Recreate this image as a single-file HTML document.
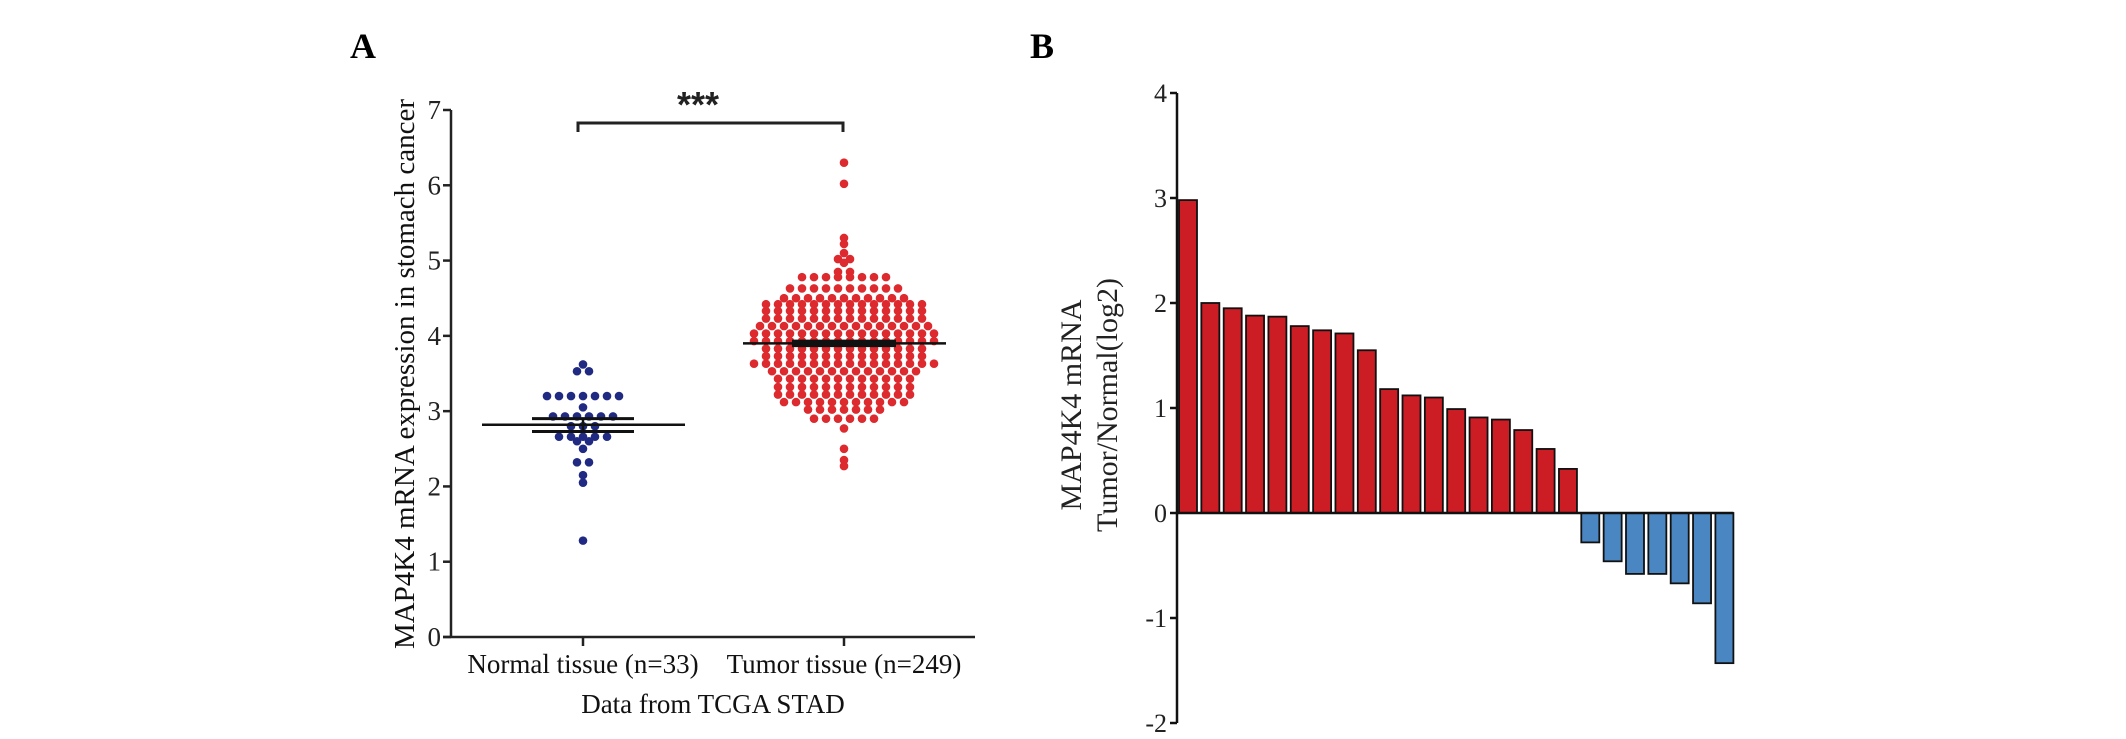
<!DOCTYPE html>
<html><head><meta charset="utf-8">
<style>
html,body{margin:0;padding:0;background:#fff;}
svg{display:block;font-family:"Liberation Serif",serif;}
</style></head>
<body>
<svg id="fig" width="2126" height="739" viewBox="0 0 2126 739" xmlns="http://www.w3.org/2000/svg">
<rect width="2126" height="739" fill="#fff"/>
<text x="350" y="58" font-size="36" font-weight="bold" fill="#000">A</text>
<text x="1030" y="58" font-size="36" font-weight="bold" fill="#000">B</text>
<g id="panelA"></g>
<g id="panelB"></g>
</svg>
<script>
// ---- Panel A data ----
const categoriesA = ["Normal tissue (n=33)", "Tumor tissue (n=249)"];
const normalLevels = [3.62, 3.53, 3.2, 3.05, 2.93, 2.8, 2.66, 2.6, 2.5, 2.32, 2.15, 2.05, 1.28];
const normalCounts = [1, 2, 7, 1, 6, 3, 5, 2, 1, 2, 1, 1, 1];
const tumorLevels = [6.3, 6.02, 5.3, 5.22, 5.1, 5.02, 4.97, 4.85, 4.78, 4.63, 4.5, 4.42, 4.33, 4.23, 4.13, 4.03, 3.93, 3.83, 3.73, 3.63, 3.53, 3.43, 3.32, 3.22, 3.12, 3.02, 2.9, 2.77, 2.5, 2.35, 2.27];
const tumorCounts = [1, 1, 1, 1, 1, 2, 1, 2, 8, 10, 11, 14, 14, 14, 15, 16, 16, 14, 14, 16, 13, 12, 12, 12, 11, 7, 6, 1, 1, 1, 1];
const normalMean = 2.82, normalSemLo = 2.73, normalSemHi = 2.9;
const tumorMean = 3.9, tumorSemLo = 3.85, tumorSemHi = 3.95;
const yTicksA = [0, 1, 2, 3, 4, 5, 6, 7];

// ---- Panel B data ----
const valuesB = [2.98, 2.0, 1.95, 1.88, 1.87, 1.78, 1.74, 1.71, 1.55, 1.18, 1.12, 1.10, 0.99, 0.91, 0.89, 0.79, 0.61, 0.42, -0.28, -0.46, -0.58, -0.58, -0.67, -0.86, -1.43];
const yTicksB = [4, 3, 2, 1, 0, -1, -2];

const NS = "http://www.w3.org/2000/svg";
function mk(parent, tag, attrs, text) {
  const e = document.createElementNS(NS, tag);
  for (const k in attrs) e.setAttribute(k, attrs[k]);
  if (text !== undefined) e.textContent = text;
  parent.appendChild(e);
  return e;
}

// ===== Panel A =====
(function () {
  const g = document.getElementById("panelA");
  const axX = 451, y0 = 637, y7 = 110, xEnd = 975;
  const yA = v => y0 - (v / 7) * (y0 - y7);
  const catX = [583, 844];

  let e = mk(g, "line", {x1: axX, y1: y7, x2: axX, y2: y0, stroke: "#222", "stroke-width": 2.5});
  
  
  e = mk(g, "line", {x1: axX - 8, y1: y0, x2: xEnd, y2: y0, stroke: "#222", "stroke-width": 2.5});
  
  
  yTicksA.forEach(t => {
    const y = yA(t);
    const tk = mk(g, "line", {x1: axX - 8, y1: y, x2: axX, y2: y, stroke: "#222", "stroke-width": 2.5});
    
    
    const lb = mk(g, "text", {x: axX - 10, y: y + 9, "font-size": 27, "text-anchor": "end", fill: "#222"}, String(t));
    
    
  });
  categoriesA.forEach((c, i) => {
    const tk = mk(g, "line", {x1: catX[i], y1: y0, x2: catX[i], y2: y0 + 9, stroke: "#222", "stroke-width": 2.5});
    
    
    const lb = mk(g, "text", {x: catX[i], y: 673, "font-size": 27, "text-anchor": "middle", fill: "#111"}, c);
    
    
  });
  e = mk(g, "text", {x: 713, y: 713, "font-size": 27, "text-anchor": "middle", fill: "#111"}, "Data from TCGA STAD");
  
  
  e = mk(g, "text", {x: 0, y: 0, "font-size": 29, "text-anchor": "middle", fill: "#111", transform: "translate(414,374) rotate(-90)"}, "MAP4K4 mRNA expression in stomach cancer");
  
  

  function swarm(levels, counts, cx, color, name) {
    levels.forEach((lv, r) => {
      const n = counts[r];
      for (let i = 0; i < n; i++) {
        const x = cx + (i - (n - 1) / 2) * 12;
        const d = mk(g, "circle", {cx: x, cy: yA(lv), r: 4.3, fill: color});
        
        
      }
    });
  }
  swarm(tumorLevels, tumorCounts, catX[1], "#dd2a2e", "tumor-dot");
  swarm(normalLevels, normalCounts, catX[0], "#202a82", "normal-dot");

  e = mk(g, "line", {x1: catX[0] - 101, y1: yA(normalMean), x2: catX[0] + 102, y2: yA(normalMean), stroke: "#111", "stroke-width": 2.5});
  
  
  [normalSemLo, normalSemHi].forEach(v => {
    const s = mk(g, "line", {x1: catX[0] - 51, y1: yA(v), x2: catX[0] + 51, y2: yA(v), stroke: "#111", "stroke-width": 3});
    
    
  });
  e = mk(g, "line", {x1: catX[0], y1: yA(normalSemLo), x2: catX[0], y2: yA(normalSemHi), stroke: "#111", "stroke-width": 2.5});
  
  
  e = mk(g, "line", {x1: catX[1] - 101, y1: yA(tumorMean), x2: catX[1] + 102, y2: yA(tumorMean), stroke: "#111", "stroke-width": 2.5});
  
  
  e = mk(g, "rect", {x: catX[1] - 52, y: yA(tumorSemHi), width: 104, height: yA(tumorSemLo) - yA(tumorSemHi), fill: "#111"});
  
  

  e = mk(g, "path", {d: `M${catX[0] - 5},132 V123 H${catX[1] - 1} V132`, fill: "none", stroke: "#222", "stroke-width": 3});
  
  
  e = mk(g, "text", {x: 698, y: 117, "font-size": 36, "font-weight": "bold", "text-anchor": "middle", fill: "#222", "font-family": "Liberation Sans, sans-serif"}, "***");
  
  
})();

// ===== Panel B =====
(function () {
  const g = document.getElementById("panelB");
  const axX = 1177, yTop = 93, unit = 105, zeroY = 513;
  const yB = v => zeroY - v * unit;
  const x0 = 1179, pitch = 22.35, bw = 18;

  valuesB.forEach((v, i) => {
    const x = x0 + i * pitch;
    const top = Math.min(yB(v), zeroY), h = Math.abs(yB(v) - zeroY);
    const b = mk(g, "rect", {x: x, y: top, width: bw, height: h, fill: v >= 0 ? "#cc1c24" : "#4a87c2", stroke: "#111", "stroke-width": 1.8});
    
    
  });
  let e = mk(g, "line", {x1: axX, y1: yTop, x2: axX, y2: yB(-2), stroke: "#111", "stroke-width": 2.5});
  
  
  e = mk(g, "line", {x1: axX, y1: zeroY, x2: x0 + (valuesB.length - 1) * pitch + bw, y2: zeroY, stroke: "#111", "stroke-width": 2.5});
  
  
  yTicksB.forEach(t => {
    const y = yB(t);
    const tk = mk(g, "line", {x1: axX - 7, y1: y, x2: axX, y2: y, stroke: "#111", "stroke-width": 2.5});
    
    
    const lb = mk(g, "text", {x: axX - 10, y: y + 9, "font-size": 26, "text-anchor": "end", fill: "#222"}, String(t));
    
    
  });
  e = mk(g, "text", {x: 0, y: 0, "font-size": 30, "text-anchor": "middle", fill: "#222", transform: "translate(1081,405) rotate(-90)"}, "MAP4K4 mRNA");
  
  
  e = mk(g, "text", {x: 0, y: 0, "font-size": 30, "text-anchor": "middle", fill: "#222", transform: "translate(1117,405) rotate(-90)"}, "Tumor/Normal(log2)");
  
  
})();
</script>
</body></html>
